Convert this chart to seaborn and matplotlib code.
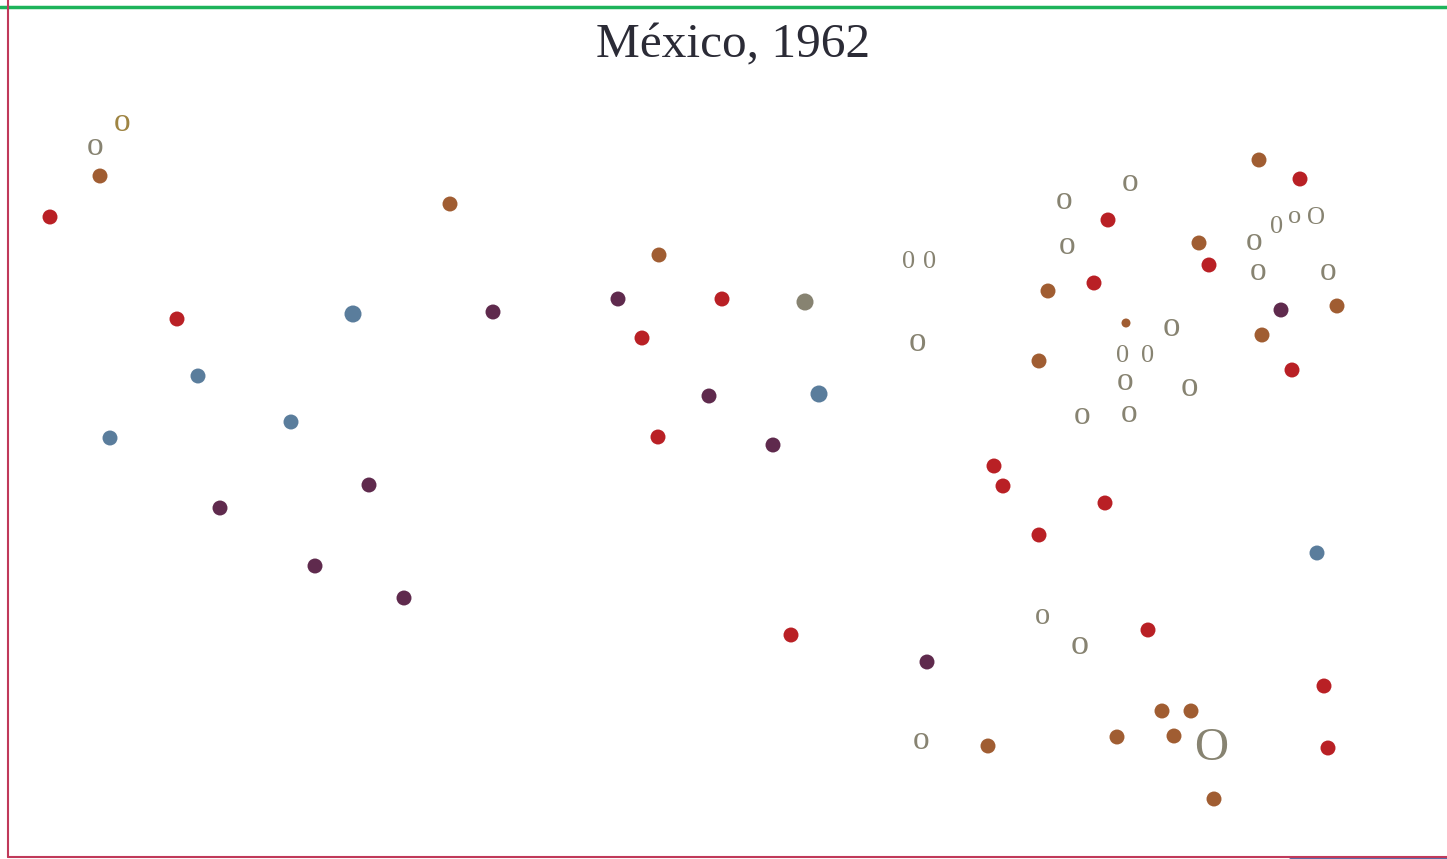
import numpy as np
import pandas as pd
import seaborn as sns
import matplotlib.pyplot as plt

# point positions (picture coordinates, y downwards)
red_x = [50, 177, 722, 642, 658, 791, 1108, 1094, 1209, 1300, 1292, 994, 1003, 1105, 1039, 1148, 1324, 1328]
red_y = [217, 319, 299, 338, 437, 635, 220, 283, 265, 179, 370, 466, 486, 503, 535, 630, 686, 748]

brown_x = [100, 450, 659, 1259, 1199, 1048, 1039, 1337, 1262, 988, 1117, 1162, 1191, 1174, 1214]
brown_y = [176, 204, 255, 160, 243, 291, 361, 306, 335, 746, 737, 711, 711, 736, 799]

purple_x = [493, 618, 709, 773, 369, 220, 315, 404, 927, 1281]
purple_y = [312, 299, 396, 445, 485, 508, 566, 598, 662, 310]

blue_x = [110, 198, 291, 1317]
blue_y = [438, 376, 422, 553]

# slightly larger dots
big_x = [353, 819, 805]
big_y = [314, 394, 302]
big_group = ["blue", "blue", "gray"]

# tiny dot
small_x = [1126]
small_y = [323]

# letter markers: text, x, y, size
mark_text = ["o", "o", "o", "o", "o", "0", "0", "o", "0", "o", "O", "o", "o", "o", "o",
             "0", "0", "o", "o", "o", "o", "o", "o", "o", "O"]
mark_x = [95, 122, 1064, 1130, 1067, 909, 930, 917, 1277, 1295, 1316, 1254, 1258, 1328, 1171,
          1123, 1148, 1125, 1189, 1082, 1129, 1042, 1080, 921, 1211]
mark_y = [147, 123, 201, 183, 246, 259, 259, 343, 224, 217, 215, 242, 272, 272, 328,
          353, 353, 382, 388, 416, 414, 617, 646, 741, 744]
mark_size = [24, 24, 24, 24, 24, 19, 19, 25, 19, 19, 18, 24, 24, 24, 25,
             19, 19, 24, 25, 24, 24, 22, 26, 24, 34]
mark_color = ["gray", "gold"] + ["gray"] * 23

colors = {"red": "#B92025", "brown": "#A05D32", "purple": "#5F2A4D",
          "blue": "#5A7D9C", "gray": "#878371", "gold": "#9E8442"}

dots = pd.DataFrame({
    "x": red_x + brown_x + purple_x + blue_x + big_x + small_x,
    "y": red_y + brown_y + purple_y + blue_y + big_y + small_y,
    "group": (["red"] * len(red_x) + ["brown"] * len(brown_x) + ["purple"] * len(purple_x)
              + ["blue"] * len(blue_x) + big_group + ["brown"]),
    "size": ([116] * (len(red_x) + len(brown_x) + len(purple_x) + len(blue_x))
             + [150] * len(big_x) + [42] * len(small_x)),
})

sns.set_style("white")
plt.rcParams['font.family'] = ['Liberation Serif', 'DejaVu Serif']

fig = plt.figure(figsize=(14.47, 8.59), dpi=100)
ax = fig.add_axes([0, 0, 1, 1])

sns.scatterplot(data=dots, x="x", y="y", hue="group", palette=colors,
                size="size", sizes=(42, 150), linewidth=0, legend=False, ax=ax)

# put the glyph's middle on the point: baseline sits half a glyph height below
for t, x, y, s, c in zip(mark_text, mark_x, mark_y, mark_size, mark_color):
    h = 0.46 if t == "o" else 0.68
    ax.text(x, y + h * s * 100 / 72 / 2, t, fontsize=s, color=colors[c],
            ha="center", va="baseline")

ax.set_xlim(0, 1447)
ax.set_ylim(859, 0)
ax.axis("off")

# frame lines
ax.axhline(7, color="#1DB35A", lw=2.5)
ax.plot([8, 8], [0, 857], color="#C0395A", lw=1.5)
ax.plot([8, 1447], [857, 857], color="#C0395A", lw=1.5)
ax.plot([1290, 1447], [858.5, 858.5], color="#4A5A9A", lw=2)

fig.text(733 / 1447, 1 - 57 / 859, "México, 1962", fontsize=35.5, color="#2B2B36",
         ha="center", va="baseline")

fig.savefig("out.png", dpi=100)
